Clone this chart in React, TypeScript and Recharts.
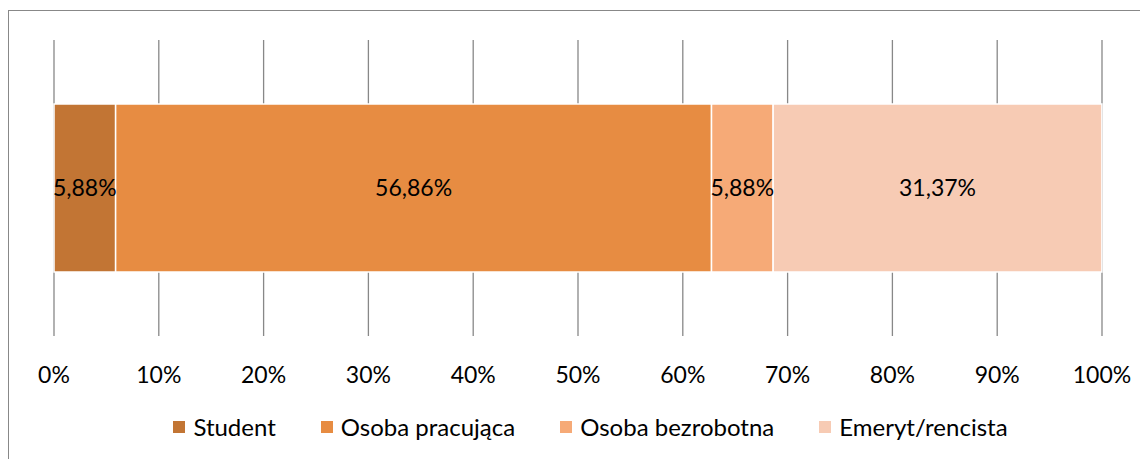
import { BarChart, Bar, XAxis, YAxis, CartesianGrid, Legend, LabelList } from 'recharts'

const categories = ['Status']
const seriesNames = ['Student', 'Osoba pracująca', 'Osoba bezrobotna', 'Emeryt/rencista']
const student = [5.88]
const pracujaca = [56.86]
const bezrobotna = [5.88]
const emeryt = [31.37]
const tickValues = [0, 10, 20, 30, 40, 50, 60, 70, 80, 90, 100]

const colors = ['#C27534', '#E78C42', '#F6AA77', '#F7CBB4']
const keys = ['student', 'pracujaca', 'bezrobotna', 'emeryt']
const FONT = 'Lato, "Open Sans", sans-serif'

const data = categories.map((name, i) => ({
  name,
  student: student[i],
  pracujaca: pracujaca[i],
  bezrobotna: bezrobotna[i],
  emeryt: emeryt[i],
}))

const pct = (v: number) => `${v.toFixed(2).replace('.', ',')}%`

function AxisTick(props: any) {
  const { x, y, payload } = props
  return (
    <text x={x} y={y + 36} textAnchor="middle" dominantBaseline="central"
      fontFamily={FONT} fontSize={23} fill="#000">
      {`${payload.value}%`}
    </text>
  )
}

function LegendContent() {
  return (
    <div style={{ display: 'flex', justifyContent: 'center', gap: 45, paddingLeft: 24, fontFamily: FONT, fontSize: 24, color: '#000' }}>
      {seriesNames.map((n, i) => (
        <div key={n} style={{ display: 'flex', alignItems: 'center' }}>
          <span style={{ width: 12, height: 12, background: colors[i], marginRight: 8, display: 'inline-block' }} />
          <span>{n}</span>
        </div>
      ))}
    </div>
  )
}

export default function App() {
  return (
    <div style={{ width: 1140, height: 449, marginTop: 2, borderTop: '1px solid #888', borderLeft: '1px solid #888', position: 'relative', boxSizing: 'border-box' }}>
      <BarChart
        width={1139}
        height={448}
        data={data}
        layout="vertical"
        margin={{ top: 29, right: 46, left: 45, bottom: 93 }}
      >
        <CartesianGrid horizontal={false} stroke="#888" strokeWidth={1.3} />
        <XAxis
          type="number"
          domain={[0, 100]}
          ticks={tickValues}
          tick={<AxisTick />}
          tickLine={false}
          tickSize={0}
          axisLine={false}
          height={30}
          interval={0}
        />
        <YAxis type="category" dataKey="name" hide />
        <Legend
          layout="horizontal"
          verticalAlign="middle"
          align="center"
          content={<LegendContent />}
          wrapperStyle={{ top: 401, left: 0, width: 1139 }}
        />
        {keys.map((k, i) => (
          <Bar key={k} dataKey={k} stackId="a" fill={colors[i]} stroke="#fff" strokeWidth={1.5}
            barSize={168} isAnimationActive={false}>
            <LabelList dataKey={k} position="center" formatter={(v: any) => pct(Number(v))}
              fill="#000" fontFamily={FONT} fontSize={23} />
          </Bar>
        ))}
      </BarChart>
    </div>
  )
}
